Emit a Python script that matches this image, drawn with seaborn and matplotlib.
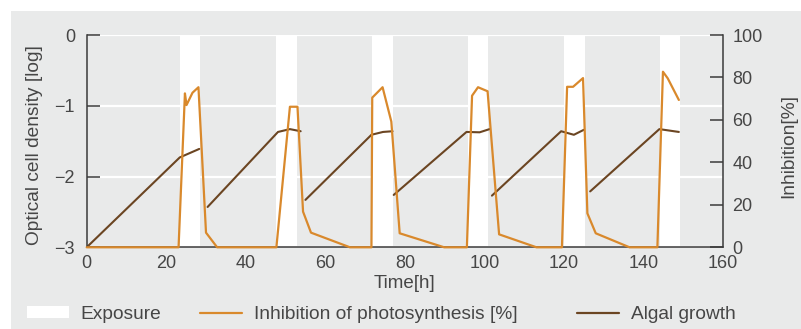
import numpy as np
import pandas as pd
import matplotlib.pyplot as plt
import matplotlib.patches as mpatches
import matplotlib.lines as mlines
import seaborn as sns

# Exposure windows [h]
exposure_start = [23.4, 47.6, 71.7, 95.8, 120.0, 144.1]
exposure_end = [28.6, 52.8, 77.0, 101.0, 125.2, 149.3]

# Algal growth, one list per culture cycle (time [h], log optical cell density)
growth_time = [
    [0, 23.4, 28.3],
    [30.4, 48.1, 51.1, 53.8],
    [55.0, 71.6, 74.5, 76.9],
    [77.2, 95.5, 98.8, 101.3],
    [101.9, 119.3, 122.5, 125.0],
    [126.6, 144.0, 148.9],
]
growth_density = [
    [-3.0, -1.73, -1.61],
    [-2.43, -1.37, -1.33, -1.36],
    [-2.33, -1.41, -1.37, -1.36],
    [-2.26, -1.37, -1.375, -1.33],
    [-2.27, -1.36, -1.41, -1.34],
    [-2.21, -1.33, -1.37],
]

# Inhibition of photosynthesis [%]
inhibition_time = [0, 23.1, 24.7, 25.1, 26.6, 28.1, 30.0, 32.8,
                   47.7, 51.1, 53.0, 54.4, 56.4, 66.2,
                   71.6, 71.8, 74.4, 76.6, 78.7, 89.9,
                   95.6, 96.9, 98.4, 100.8, 103.7, 113.1,
                   119.5, 120.8, 122.3, 124.8, 125.9, 128.0, 136.5,
                   143.5, 144.9, 146.1, 148.9]
inhibition_value = [0, 0, 72.5, 67.0, 72.8, 75.4, 6.9, 0,
                    0, 66.2, 66.2, 16.8, 6.9, 0,
                    0, 70.5, 75.4, 59.2, 6.6, 0,
                    0, 71.4, 75.4, 73.5, 6.1, 0,
                    0, 75.6, 75.6, 79.7, 16.0, 6.6, 0,
                    0, 82.7, 79.6, 69.4]

x_ticks = [0, 20, 40, 60, 80, 100, 120, 140, 160]
left_ticks = [0, -1, -2, -3]
right_ticks = [0, 20, 40, 60, 80, 100]

ORANGE = '#d9892c'
BROWN = '#6b4522'
PANEL = '#e9eaea'
INK = '#3b3b3b'
TEXT = '#464646'

sns.set_style('white', rc={'axes.facecolor': PANEL})
plt.rcParams['font.family'] = ['Liberation Sans', 'DejaVu Sans']
plt.rcParams['text.color'] = TEXT
plt.rcParams['axes.labelcolor'] = TEXT
plt.rcParams['xtick.labelcolor'] = TEXT
plt.rcParams['ytick.labelcolor'] = TEXT
plt.rcParams['xtick.color'] = INK
plt.rcParams['ytick.color'] = INK

rows = []
for i, (ts, ds) in enumerate(zip(growth_time, growth_density)):
    for t, d in zip(ts, ds):
        rows.append({'time': t, 'density': d, 'cycle': i})
growth = pd.DataFrame(rows)

fig = plt.figure(figsize=(8.01, 3.29), dpi=100)
fig.patches.append(mpatches.Rectangle((11 / 801, 0), 1, 318 / 329, transform=fig.transFigure,
                                      facecolor=PANEL, edgecolor='none', zorder=-10))
ax = fig.add_axes([86.7 / 801, 1 - 247.3 / 329, (723 - 86.7) / 801, (247.3 - 35) / 329])
ax.set_facecolor(PANEL)

for s, e in zip(exposure_start, exposure_end):
    ax.axvspan(s, e, color='white', lw=0, zorder=0.4)

sns.lineplot(data=growth, x='time', y='density', units='cycle', estimator=None,
             sort=False, color=BROWN, lw=1.5, ax=ax)

ax.set_xlim(0, 160)
ax.set_ylim(-3, 0)
ax.set_xticks(x_ticks)
ax.set_yticks(left_ticks)
ax.grid(axis='y', color='white', lw=1.6)
ax.set_axisbelow(True)
for side in ['left', 'bottom']:
    ax.spines[side].set_color(INK)
    ax.spines[side].set_linewidth(1.1)
ax.spines['top'].set_visible(False)
ax.spines['right'].set_visible(False)
ax.tick_params(axis='y', direction='in', length=9.5, width=1.1, pad=8.4, labelsize=13)
ax.tick_params(axis='x', direction='in', length=6.5, width=1.1, pad=5.5, labelsize=13)
ax.set_xlabel('Time[h]', fontsize=13.5, labelpad=2)
ax.set_ylabel('Optical cell density [log]', fontsize=13.8)
ax.yaxis.set_label_coords(-0.069, 0.482)

ax2 = ax.twinx()
sns.lineplot(x=inhibition_time, y=inhibition_value, estimator=None, sort=False,
             color=ORANGE, lw=1.6, ax=ax2)
for ln in ax2.lines:
    ln.set_clip_on(False)
ax2.set_ylim(0, 100)
ax2.set_yticks(right_ticks)
for side in ['left', 'bottom', 'top']:
    ax2.spines[side].set_visible(False)
ax2.spines['right'].set_color(INK)
ax2.spines['right'].set_linewidth(1.1)
ax2.tick_params(axis='y', direction='in', length=9.5, width=1.1, pad=6.7, labelsize=13)
ax2.set_ylabel('Inhibition[%]', fontsize=13.8)
ax2.yaxis.set_label_coords(1.0896, 0.477)
ax2.grid(False)

# legend row, one entry per block
leg_y = 1 - 314.5 / 329
entries = [
    (mpatches.Patch(facecolor='white', edgecolor='none'), 'Exposure', 27 / 801),
    (mlines.Line2D([], [], color=ORANGE, lw=1.6), 'Inhibition of photosynthesis [%]', 200 / 801),
    (mlines.Line2D([], [], color=BROWN, lw=1.6), 'Algal growth', 577 / 801),
]
for h, lab, x in entries:
    fig.legend([h], [lab], loc='center left', bbox_to_anchor=(x, leg_y), frameon=False,
               fontsize=13.8, handlelength=2.2, handleheight=0.6, handletextpad=0.6,
               borderpad=0, borderaxespad=0)

fig.savefig('out.png', dpi=100, facecolor='white')
